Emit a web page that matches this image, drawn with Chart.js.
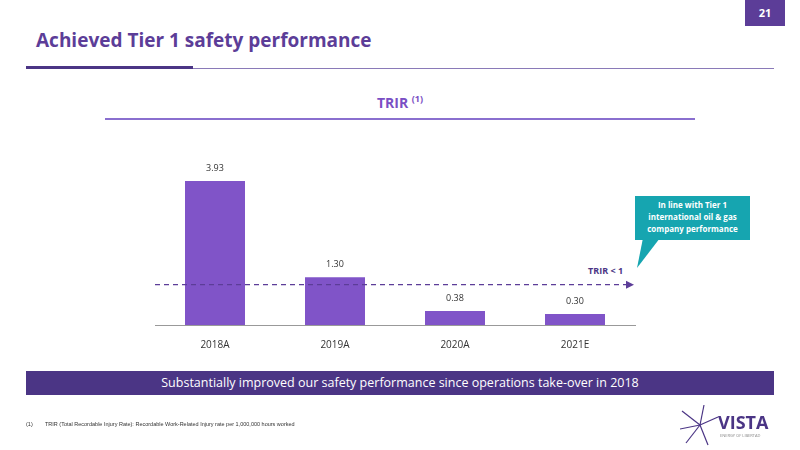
<!DOCTYPE html>
<html>
<head>
<meta charset="utf-8">
<script src="https://cdn.jsdelivr.net/npm/chart.js@4"></script>
<style>
  body { margin: 0; width: 800px; height: 450px; position: relative; background: #fff; font-family: "Open Sans", sans-serif; overflow: hidden; }
  .abs { position: absolute; }
</style>
</head>
<body>
<div class="abs" style="left:745px;top:0;width:40px;height:26px;background:#5c3d98;color:#fff;font:bold 11px 'Open Sans';text-align:center;line-height:26px;">21</div>
<div class="abs" style="left:36px;top:27px;color:#5c3d98;font:bold 19px 'Open Sans';">Achieved Tier 1 safety performance</div>
<div class="abs" style="left:26px;top:68px;width:748px;height:1px;background:#8a7ab8;"></div>
<div class="abs" style="left:26px;top:66px;width:167px;height:3px;background:#4b3585;"></div>
<div class="abs" style="left:105px;top:92px;width:590px;text-align:center;color:#7a4fc4;font:bold 14px 'Open Sans';">TRIR <sup style="font-size:9px">(1)</sup></div>
<div class="abs" style="left:105px;top:118px;width:590px;height:2px;background:#8a6fcf;"></div>

<div class="abs" style="left:635px;top:196px;width:115px;height:44px;background:#16a5b0;color:#fff;font:bold 8px 'Open Sans';text-align:center;line-height:12px;padding-top:3px;box-sizing:border-box;">In line with Tier 1<br>international oil &amp; gas<br>company performance</div>
<svg class="abs" style="left:630px;top:238px" width="50" height="35"><polygon points="13,0 30,0 7,30" fill="#16a5b0"/></svg>
<div class="abs" style="left:588px;top:264px;color:#4b3585;font:bold 9px 'Open Sans';">TRIR &lt; 1</div>

<canvas id="trirchart" class="abs" style="left:0;top:0" width="800" height="450"></canvas>

<div class="abs" style="left:26px;top:371px;width:748px;height:24px;background:#4b3585;color:#fff;font:12.5px 'Open Sans';text-align:center;line-height:24px;">Substantially improved our safety performance since operations take-over in 2018</div>
<div class="abs" style="left:26px;top:421px;color:#333;font:5.5px 'Liberation Sans';">(1)&nbsp;&nbsp;&nbsp;&nbsp;&nbsp;&nbsp;&nbsp;&nbsp;TRIR (Total Recordable Injury Rate): Recordable Work-Related Injury rate per 1,000,000 hours worked</div>
<svg class="abs" style="left:680px;top:403px" width="40" height="45">
  <g stroke="#4b3585" stroke-width="1.2">
    <line x1="20" y1="22" x2="2" y2="8"/><line x1="20" y1="22" x2="24" y2="2"/><line x1="20" y1="22" x2="38" y2="14"/>
    <line x1="20" y1="22" x2="6" y2="40"/><line x1="20" y1="22" x2="28" y2="42"/><line x1="20" y1="22" x2="0" y2="26"/>
  </g>
</svg>
<div class="abs" style="left:718px;top:410px;color:#4b3585;font:bold 18px 'Open Sans';">VISTA</div>
<div class="abs" style="left:720px;top:433px;color:#888;font:4px 'Open Sans';">ENERGY OF LIBERTAD</div>

<script>
// data
var years = ['2018A', '2019A', '2020A', '2021E'];
var trirValues = [3.93, 1.30, 0.38, 0.30];
var targetLine = 1.1;

// value labels above bars
var valueLabels = {
    id: 'valueLabels',
    afterDatasetsDraw: function (chart) {
        var ctx = chart.ctx;
        var meta = chart.getDatasetMeta(0);
        ctx.save();
        ctx.font = '9px "Open Sans"';
        ctx.fillStyle = '#333';
        ctx.textAlign = 'center';
        meta.data.forEach(function (bar, i) {
            ctx.fillText(trirValues[i].toFixed(2), bar.x, bar.y - 10);
        });
        ctx.restore();
    }
};

// dashed target arrow
var targetArrow = {
    id: 'targetArrow',
    afterDatasetsDraw: function (chart) {
        var ctx = chart.ctx;
        var y = chart.scales.y.getPixelForValue(targetLine);
        var x0 = chart.chartArea.left, x1 = chart.chartArea.right - 3;
        ctx.save();
        ctx.strokeStyle = '#5c3d98';
        ctx.lineWidth = 1.2;
        ctx.setLineDash([5, 4]);
        ctx.beginPath();
        ctx.moveTo(x0, y);
        ctx.lineTo(x1 - 4, y);
        ctx.stroke();
        ctx.setLineDash([]);
        ctx.fillStyle = '#5c3d98';
        ctx.beginPath();
        ctx.moveTo(x1 + 2, y);
        ctx.lineTo(x1 - 6, y - 4);
        ctx.lineTo(x1 - 6, y + 4);
        ctx.fill();
        ctx.restore();
    }
};

var ctx = document.getElementById('trirchart').getContext('2d');
var trirchart = new Chart(ctx, {
    type: 'bar',
    data: {
        labels: years,
        datasets: [{
            data: trirValues,
            backgroundColor: '#8054c8',
            barPercentage: 0.5,
            categoryPercentage: 1
        }]
    },
    options: {
        responsive: false,
        animation: false,
        layout: { padding: { left: 155, right: 165, top: 160, bottom: 93 } },
        plugins: { legend: { display: false }, tooltip: { enabled: false } },
        scales: {
            y: { display: false, min: 0, max: 4.5 },
            x: {
                grid: { display: false },
                border: { color: '#999' },
                ticks: { color: '#333', font: { family: 'Open Sans', size: 10 }, padding: 6 }
            }
        }
    },
    plugins: [valueLabels, targetArrow]
});
</script>
</body>
</html>
